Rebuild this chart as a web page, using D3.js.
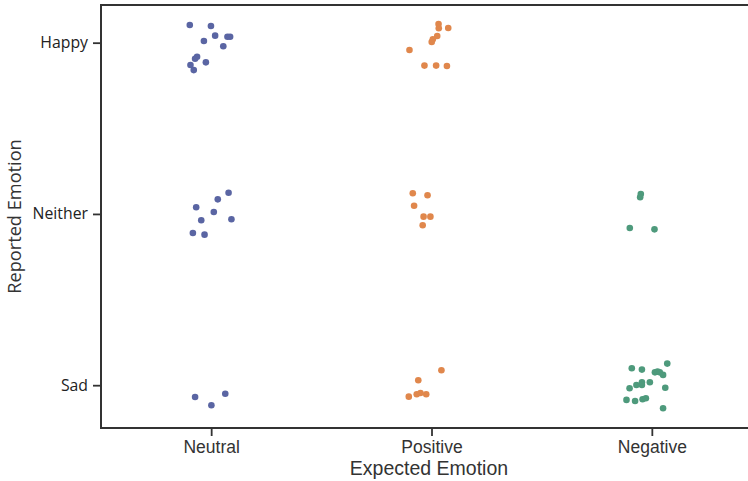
<!DOCTYPE html>
<html>
<head>
<meta charset="utf-8">
<script src="https://cdn.jsdelivr.net/npm/d3@7"></script>
<style>
  html, body { margin: 0; padding: 0; background: #fff; }
  svg { display: block; }
</style>
</head>
<body>
<svg id="chart" width="748" height="481"></svg>
<script>
// Categories on each axis
const expectedEmotions = ["Neutral", "Positive", "Negative"];
const reportedEmotions = ["Sad", "Neither", "Happy"];

// Strip-plot observations per expected emotion:
// [reported emotion, horizontal jitter, reported score with jitter]
const neutralPoints = [
  ["Happy", -0.097, 2.103], ["Happy", -0.001, 2.097], ["Happy", 0.018, 2.041],
  ["Happy", -0.033, 2.010], ["Happy", 0.074, 2.035], ["Happy", 0.086, 2.035],
  ["Happy", 0.055, 1.979], ["Happy", -0.064, 1.918], ["Happy", -0.073, 1.906],
  ["Happy", -0.024, 1.885], ["Happy", -0.094, 1.870], ["Happy", -0.079, 1.840],
  ["Neither", 0.079, 1.124], ["Neither", 0.030, 1.085], ["Neither", -0.068, 1.039],
  ["Neither", 0.012, 1.011], ["Neither", -0.045, 0.963], ["Neither", 0.092, 0.969],
  ["Neither", -0.083, 0.889], ["Neither", -0.030, 0.879],
  ["Sad", 0.064, -0.050], ["Sad", -0.073, -0.069], ["Sad", 0.001, -0.117]
];
const positivePoints = [
  ["Happy", 0.032, 2.109], ["Happy", 0.033, 2.084], ["Happy", 0.076, 2.086],
  ["Happy", 0.026, 2.039], ["Happy", 0.006, 2.020], ["Happy", 0.001, 2.004],
  ["Happy", -0.100, 1.957], ["Happy", -0.032, 1.866], ["Happy", 0.021, 1.866],
  ["Happy", 0.070, 1.864],
  ["Neither", -0.085, 1.121], ["Neither", -0.018, 1.109], ["Neither", -0.079, 1.048],
  ["Neither", -0.036, 0.984], ["Neither", -0.005, 0.984], ["Neither", -0.040, 0.934],
  ["Sad", 0.045, 0.087], ["Sad", -0.060, 0.029], ["Sad", -0.050, -0.046],
  ["Sad", -0.024, -0.053], ["Sad", -0.067, -0.053], ["Sad", -0.103, -0.067]
];
const negativePoints = [
  ["Neither", -0.050, 1.116], ["Neither", -0.053, 1.097], ["Neither", -0.100, 0.918],
  ["Neither", 0.012, 0.910],
  ["Sad", 0.070, 0.126], ["Sad", -0.091, 0.099], ["Sad", -0.045, 0.091],
  ["Sad", 0.014, 0.075], ["Sad", 0.026, 0.079], ["Sad", 0.036, 0.075],
  ["Sad", 0.051, 0.060], ["Sad", -0.009, 0.017], ["Sad", -0.045, 0.017],
  ["Sad", -0.045, 0.001], ["Sad", -0.070, 0.001], ["Sad", -0.101, -0.018],
  ["Sad", 0.061, -0.015], ["Sad", -0.115, -0.086], ["Sad", -0.076, -0.092],
  ["Sad", -0.042, -0.082], ["Sad", -0.027, -0.076], ["Sad", 0.051, -0.135]
];

const seriesPoints = [neutralPoints, positivePoints, negativePoints];
const seriesColors = ["#5a65a3", "#e0874c", "#4e9a7c"];

const svg = d3.select("#chart");
const margin = { left: 101, top: 5, right: 762, bottom: 428 };

// Categorical x, numeric y (category index plus jitter)
const x = d3.scalePoint()
  .domain(expectedEmotions)
  .range([margin.left, margin.right])
  .padding(0.5);

const y = d3.scaleLinear()
  .domain([-0.25, 2.22])
  .range([margin.bottom, margin.top]);

const axisColor = "#333";

// Frame around the plotting area
svg.append("rect")
  .attr("x", margin.left)
  .attr("y", margin.top)
  .attr("width", margin.right - margin.left)
  .attr("height", margin.bottom - margin.top)
  .attr("fill", "none")
  .attr("stroke", axisColor)
  .attr("stroke-width", 2);

// Points
seriesPoints.forEach((pts, i) => {
  svg.append("g")
    .selectAll("circle")
    .data(pts)
    .join("circle")
    .attr("cx", d => x(expectedEmotions[i]) + d[1] * x.step())
    .attr("cy", d => y(d[2]))
    .attr("r", 3.3)
    .attr("fill", seriesColors[i]);
});

// X axis
const xAxis = svg.append("g")
  .attr("transform", `translate(0,${margin.bottom})`)
  .call(d3.axisBottom(x).tickSize(8).tickPadding(5));
xAxis.select(".domain").remove();
xAxis.selectAll("line").attr("stroke", axisColor).attr("stroke-width", 1.8);
xAxis.selectAll("text")
  .attr("fill", "#333")
  .style("font-family", "'Liberation Sans', Arial, sans-serif")
  .style("font-size", "17.5px");

// Y axis
const yAxis = svg.append("g")
  .attr("transform", `translate(${margin.left},0)`)
  .call(d3.axisLeft(y)
    .tickValues(d3.range(reportedEmotions.length))
    .tickFormat(i => reportedEmotions[i])
    .tickSize(8).tickPadding(5));
yAxis.select(".domain").remove();
yAxis.selectAll("line").attr("stroke", axisColor).attr("stroke-width", 1.8);
yAxis.selectAll("text")
  .attr("fill", "#222")
  .style("font-family", "'Open Sans', sans-serif")
  .style("font-size", "15.8px");

// Axis titles
svg.append("text")
  .attr("x", 429)
  .attr("y", 475)
  .attr("text-anchor", "middle")
  .attr("fill", "#333")
  .style("font-family", "'Liberation Sans', Arial, sans-serif")
  .style("font-size", "19.5px")
  .text("Expected Emotion");

svg.append("text")
  .attr("transform", `translate(21,${(margin.top + margin.bottom) / 2}) rotate(-90)`)
  .attr("text-anchor", "middle")
  .attr("fill", "#333")
  .style("font-family", "'Open Sans', sans-serif")
  .style("font-size", "18.2px")
  .text("Reported Emotion");
</script>
</body>
</html>
